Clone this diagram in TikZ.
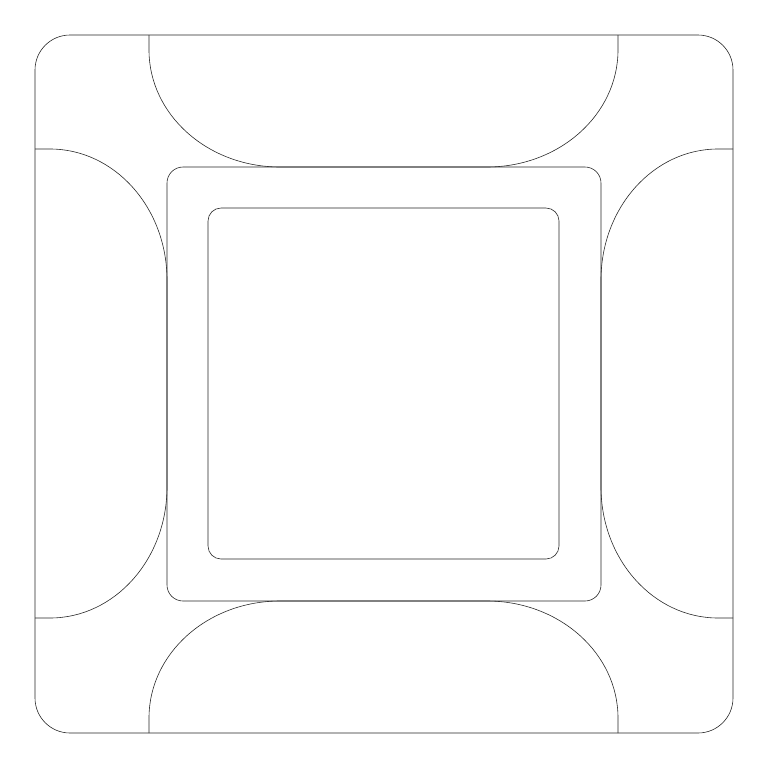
\documentclass[tikz,border=0pt]{standalone}
\usepackage{tikz}

\begin{document}
\begin{tikzpicture}[x=0.3mm, y=-0.3mm, edge/.style = {draw, line width=0.5pt, black!85}]
	\useasboundingbox (0,0) rectangle (768,768);
	% frames
	\draw[edge, rounded corners=10.5mm] (35,35) rectangle (733,733);
	\draw[edge, rounded corners=4.8mm] (167,167) rectangle (601,601);
	\draw[edge, rounded corners=3.9mm] (208,208) rectangle (559,559);
	% lobes
	\draw[edge] (149,35) -- (149,50) .. controls (149,114.6) and (207.6,167) .. (280,167) -- (487,167) .. controls (559.4,167) and (618,114.6) .. (618,50) -- (618,35);
	\draw[edge] (149,733) -- (149,718) .. controls (149,653.4) and (207.6,601) .. (280,601) -- (487,601) .. controls (559.4,601) and (618,653.4) .. (618,718) -- (618,733);
	\draw[edge] (35,149) -- (50,149) .. controls (114.6,149) and (167,207.6) .. (167,280) -- (167,487) .. controls (167,559.4) and (114.6,618) .. (50,618) -- (35,618);
	\draw[edge] (733,149) -- (718,149) .. controls (653.4,149) and (601,207.6) .. (601,280) -- (601,487) .. controls (601,559.4) and (653.4,618) .. (718,618) -- (733,618);
\end{tikzpicture}
\end{document}
